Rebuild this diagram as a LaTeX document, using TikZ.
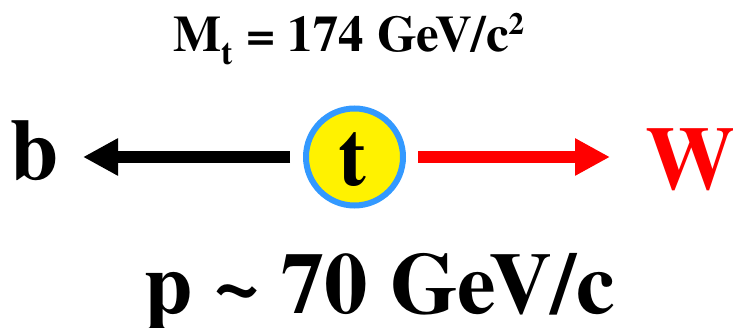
\documentclass[tikz,border=0pt]{standalone}
\usepackage{fontspec}
\newfontfamily\timesbf{texgyretermes-bold.otf}
\usetikzlibrary{arrows.meta}
\definecolor{ringblue}{RGB}{51,153,255}
\definecolor{wred}{RGB}{255,0,0}
\begin{document}
\begin{tikzpicture}[x=1pt,y=-1pt,
  lbl/.style={inner sep=0pt,anchor=base},
  momarrow/.style={line width=12pt,-{Triangle[length=35pt,width=35pt]}},
  topq/.style={circle,draw=ringblue,line width=6pt,fill=yellow,minimum size=97pt,inner sep=0pt}]
\useasboundingbox (0,0) rectangle (733,328);
\node[lbl,font=\timesbf\fontsize{51}{51}\selectfont] (mass) at (349,52)
  {M\raisebox{-13pt}{\fontsize{34}{34}\selectfont t} = 174 GeV/c\raisebox{17pt}{\fontsize{31}{31}\selectfont 2}};
\node[topq] (t) at (354.5,157) {};
\node[lbl,font=\timesbf\fontsize{84}{84}\selectfont] (tl) at (352,186) {t};
\node[lbl,font=\timesbf\fontsize{87}{87}\selectfont] (b) at (35,180) {b};
\node[lbl,font=\timesbf\fontsize{90}{90}\selectfont,text=wred] (W) at (690,190) {W};
\coordinate (btip) at (83,157);
\coordinate (wtip) at (610,157);
\draw[momarrow] ([xshift=-13pt]t.west) -- (btip);
\draw[momarrow,draw=wred,fill=wred] ([xshift=12pt]t.east) -- (wtip);
\node[lbl,font=\timesbf\fontsize{87}{87}\selectfont] (p) at (379.5,313) {p \char"7E{} 70 GeV/c};
\end{tikzpicture}
\end{document}
